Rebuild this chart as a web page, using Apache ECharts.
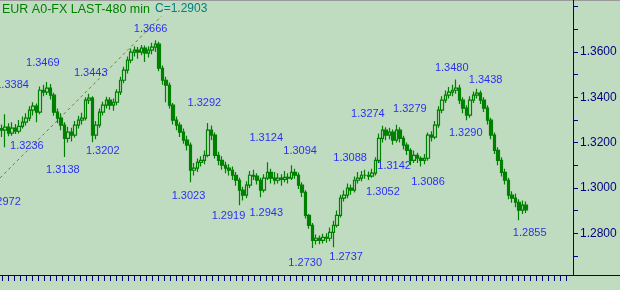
<!DOCTYPE html>
<html><head><meta charset="utf-8">
<script src="https://cdn.jsdelivr.net/npm/echarts@6/dist/echarts.min.js"></script>
<style>html,body{margin:0;padding:0;background:#c0dcc0;}#c{width:620px;height:290px;}</style>
</head><body><div id="c"></div>
<script>
var titleText = 'EUR A0-FX LAST-480 min';
var lastText = 'C=1.2903';
var slots = 164;
var opens = [1.3262,1.3255,1.3268,1.3242,1.3264,1.3250,1.3272,1.3290,1.3308,1.3343,
 1.3361,1.3334,1.3431,1.3423,1.3440,1.3409,1.3334,1.3308,1.3277,1.3219,
 1.3246,1.3233,1.3277,1.3299,1.3308,1.3387,1.3396,1.3233,1.3277,1.3334,
 1.3365,1.3387,1.3365,1.3378,1.3423,1.3475,1.3520,1.3564,1.3599,1.3608,
 1.3599,1.3617,1.3595,1.3608,1.3621,1.3634,1.3528,1.3475,1.3453,1.3365,
 1.3299,1.3277,1.3246,1.3211,1.3189,1.3078,1.3087,1.3113,1.3122,1.3144,
 1.3255,1.3233,1.3144,1.3122,1.3100,1.3087,1.3078,1.3056,1.3034,1.2990,
 1.2968,1.3012,1.3056,1.3052,1.3034,1.2990,1.3043,1.3069,1.3043,1.3034,
 1.3043,1.3038,1.3047,1.3043,1.3069,1.3056,1.3012,1.2981,1.2879,1.2835,
 1.2769,1.2778,1.2769,1.2782,1.2778,1.2804,1.2835,1.2879,1.2955,1.2968,
 1.2999,1.2990,1.3034,1.3043,1.3056,1.3056,1.3052,1.3065,1.3122,1.3219,
 1.3255,1.3233,1.3246,1.3211,1.3255,1.3219,1.3189,1.3166,1.3122,1.3144,
 1.3131,1.3122,1.3131,1.3233,1.3224,1.3277,1.3343,1.3387,1.3409,1.3423,
 1.3431,1.3440,1.3387,1.3352,1.3321,1.3387,1.3409,1.3418,1.3387,1.3352,
 1.3299,1.3233,1.3166,1.3122,1.3069,1.3034,1.2968,1.2955,1.2937,1.2902,
 1.2924];
var closes = [1.3255,1.3268,1.3242,1.3264,1.3250,1.3272,1.3290,1.3308,1.3343,1.3361,
 1.3334,1.3431,1.3423,1.3440,1.3409,1.3334,1.3308,1.3277,1.3219,1.3246,
 1.3233,1.3277,1.3299,1.3308,1.3387,1.3396,1.3233,1.3277,1.3334,1.3365,
 1.3387,1.3365,1.3378,1.3423,1.3475,1.3520,1.3564,1.3599,1.3608,1.3599,
 1.3617,1.3595,1.3608,1.3621,1.3634,1.3528,1.3475,1.3453,1.3365,1.3299,
 1.3277,1.3246,1.3211,1.3189,1.3078,1.3087,1.3113,1.3122,1.3144,1.3255,
 1.3233,1.3144,1.3122,1.3100,1.3087,1.3078,1.3056,1.3034,1.2990,1.2968,
 1.3012,1.3056,1.3052,1.3034,1.2990,1.3043,1.3069,1.3043,1.3034,1.3043,
 1.3038,1.3047,1.3043,1.3069,1.3056,1.3012,1.2981,1.2879,1.2835,1.2769,
 1.2778,1.2769,1.2782,1.2778,1.2804,1.2835,1.2879,1.2955,1.2968,1.2999,
 1.2990,1.3034,1.3043,1.3056,1.3056,1.3052,1.3065,1.3122,1.3219,1.3255,
 1.3233,1.3246,1.3211,1.3255,1.3219,1.3189,1.3166,1.3122,1.3144,1.3131,
 1.3122,1.3131,1.3233,1.3224,1.3277,1.3343,1.3387,1.3409,1.3423,1.3431,
 1.3440,1.3387,1.3352,1.3321,1.3387,1.3409,1.3418,1.3387,1.3352,1.3299,
 1.3233,1.3166,1.3122,1.3069,1.3034,1.2968,1.2955,1.2937,1.2902,1.2924,
 1.2903];
var highs = [1.3280,1.3325,1.3285,1.3290,1.3282,1.3300,1.3315,1.3330,1.3360,1.3378,
 1.3372,1.3448,1.3455,1.3467,1.3458,1.3420,1.3350,1.3330,1.3290,1.3270,
 1.3265,1.3295,1.3318,1.3332,1.3400,1.3415,1.3405,1.3295,1.3350,1.3380,
 1.3402,1.3400,1.3395,1.3435,1.3490,1.3535,1.3580,1.3615,1.3625,1.3622,
 1.3630,1.3628,1.3625,1.3640,1.3652,1.3645,1.3540,1.3490,1.3465,1.3375,
 1.3315,1.3290,1.3262,1.3230,1.3200,1.3110,1.3130,1.3140,1.3165,1.3286,
 1.3275,1.3245,1.3160,1.3140,1.3115,1.3105,1.3095,1.3070,1.3045,1.3005,
 1.3030,1.3075,1.3080,1.3065,1.3045,1.3060,1.3113,1.3085,1.3070,1.3065,
 1.3060,1.3075,1.3065,1.3100,1.3085,1.3068,1.3025,1.2990,1.2885,1.2845,
 1.2795,1.2790,1.2798,1.2800,1.2825,1.2855,1.2900,1.2970,1.2990,1.3020,
 1.3015,1.3050,1.3070,1.3075,1.3080,1.3072,1.3085,1.3135,1.3240,1.3274,
 1.3268,1.3265,1.3258,1.3279,1.3268,1.3230,1.3200,1.3175,1.3165,1.3155,
 1.3140,1.3150,1.3245,1.3250,1.3295,1.3360,1.3405,1.3430,1.3445,1.3455,
 1.3478,1.3455,1.3400,1.3365,1.3405,1.3425,1.3438,1.3430,1.3400,1.3365,
 1.3310,1.3245,1.3180,1.3135,1.3085,1.3045,1.2985,1.2975,1.2950,1.2945,
 1.2940];
var lows = [1.3225,1.3180,1.3228,1.3230,1.3238,1.3240,1.3262,1.3275,1.3295,1.3320,
 1.3290,1.3325,1.3405,1.3410,1.3390,1.3318,1.3285,1.3255,1.3136,1.3200,
 1.3205,1.3222,1.3262,1.3280,1.3298,1.3370,1.3202,1.3215,1.3265,1.3320,
 1.3350,1.3345,1.3340,1.3365,1.3410,1.3462,1.3505,1.3550,1.3580,1.3570,
 1.3585,1.3556,1.3575,1.3590,1.3600,1.3515,1.3455,1.3378,1.3350,1.3280,
 1.3255,1.3225,1.3195,1.3165,1.3025,1.3055,1.3070,1.3095,1.3105,1.3135,
 1.3210,1.3130,1.3100,1.3080,1.3065,1.3055,1.3035,1.3010,1.2924,1.2945,
 1.2955,1.3000,1.3035,1.3015,1.2959,1.2980,1.3035,1.3020,1.3015,1.3020,
 1.3010,1.3025,1.3020,1.3035,1.3040,1.2995,1.2960,1.2865,1.2820,1.2735,
 1.2750,1.2752,1.2755,1.2758,1.2765,1.2738,1.2825,1.2870,1.2940,1.2955,
 1.2970,1.2980,1.3020,1.3030,1.3040,1.3035,1.3045,1.3055,1.3110,1.3200,
 1.3210,1.3215,1.3190,1.3200,1.3200,1.3170,1.3145,1.3100,1.3110,1.3110,
 1.3095,1.3105,1.3120,1.3205,1.3215,1.3265,1.3330,1.3375,1.3395,1.3405,
 1.3415,1.3370,1.3330,1.3299,1.3310,1.3375,1.3395,1.3370,1.3335,1.3280,
 1.3215,1.3150,1.3100,1.3050,1.3015,1.2950,1.2935,1.2915,1.2857,1.2885,
 1.2890];
var labelText = ['1.3384','1.3469','1.3443','1.3666','1.3236','1.3138','1.3202','1.2972','1.3023','1.3292',
 '1.3124','1.3094','1.2919','1.2943','1.2730','1.2737','1.3088','1.3274','1.3052','1.3142',
 '1.3279','1.3086','1.3480','1.3438','1.3290','1.2855'];
var labelX = [2.95,11.78,25.48,42.6,7.2,17.5,28.9,0.64,53.45,58.0,
 75.7,85.4,64.9,75.7,86.85,98.56,99.7,104.8,109.1,112.3,
 116.8,122.0,128.8,138.5,132.8,151.1];
var labelY = [1.3453,1.3550,1.3506,1.3700,1.3184,1.3078,1.3162,1.2937,1.2963,1.3373,
 1.3219,1.3162,1.2875,1.2888,1.2668,1.2694,1.3131,1.3325,1.2981,1.3095,
 1.3347,1.3025,1.3528,1.3475,1.3241,1.2800];
var trendX = [-0.5, 45.75];
var trendY = [1.3044, 1.3758];
var yTickValues = [1.27,1.28,1.29,1.30,1.31,1.32,1.33,1.34,1.35,1.36,1.37,1.38];
var yLabelValues = [1.28,1.30,1.32,1.34,1.36];

var cats = [], candles = [], labels = [], trend = [], xTicks = [];
for (var i = 0; i < slots; i++) cats.push(String(i));
for (var i = 0; i < closes.length; i++) candles.push([opens[i], closes[i], lows[i], highs[i]]);
for (var i = 0; i < labelText.length; i++) labels.push({value: [labelX[i], labelY[i]], name: labelText[i]});
for (var i = 0; i < trendX.length; i++) trend.push([trendX[i], trendY[i]]);
for (var k = 0; k < 95; k++) xTicks.push(2.7 + 6 * k);

var FONT = '"Liberation Sans", Arial, sans-serif';
var NAVY = '#000080';
var chart = echarts.init(document.getElementById('c'), null, {renderer: 'canvas'});
chart.setOption({
  animation: false,
  backgroundColor: '#c0dcc0',
  textStyle: {fontFamily: FONT},
  grid: {left: 0, right: 47, top: 0, bottom: 15},
  xAxis: [
    {type: 'category', data: cats, boundaryGap: true, show: false},
    {type: 'value', min: 0, max: 573, position: 'bottom', gridIndex: 0,
     axisLine: {show: true, onZero: false, lineStyle: {color: NAVY, width: 1}},
     axisTick: {show: true, customValues: xTicks, length: 6, lineStyle: {color: NAVY}},
     axisLabel: {show: false}, splitLine: {show: false}},
    {type: 'value', min: -0.5, max: slots - 0.5, show: false, splitLine: {show: false}}
  ],
  yAxis: [{
    type: 'value', position: 'right', min: 1.2616, max: 1.3829, scale: true,
    axisLine: {show: true, onZero: false, lineStyle: {color: NAVY, width: 1}},
    axisTick: {show: true, inside: false, length: 5, customValues: yTickValues, lineStyle: {color: NAVY}},
    axisLabel: {show: true, customValues: yLabelValues, color: NAVY, fontSize: 12, fontFamily: FONT, margin: 7,
      formatter: function (v) { return v.toFixed(4); }},
    splitLine: {show: false}
  }],
  series: [
    {type: 'line', xAxisIndex: 2, data: trend, symbol: 'none', silent: true, z: 1,
     lineStyle: {color: '#8c7a00', width: 1, type: [3, 3]}},
    {type: 'candlestick', xAxisIndex: 0, data: candles, barWidth: 3, z: 2,
     itemStyle: {color: '#c0dcc0', color0: '#008000', borderColor: '#008000', borderColor0: '#008000', borderWidth: 1.2}},
    {type: 'scatter', xAxisIndex: 2, data: labels, symbolSize: 1, z: 3, silent: true,
     itemStyle: {color: 'rgba(0,0,0,0)'},
     label: {show: true, position: 'inside', formatter: function (p) { return p.name; },
       color: '#0000ff', fontSize: 11, fontFamily: FONT}}
  ],
  graphic: [
    {type: 'rect', left: 0, top: 0, shape: {width: 620, height: 1}, style: {fill: '#9a9a9a'}, silent: true},
    {type: 'line', silent: true, shape: {x1: 573, y1: 275.5, x2: 620, y2: 275.5}, style: {stroke: NAVY, lineWidth: 1}},
    {type: 'text', left: 2, top: 3, style: {text: titleText, fill: '#008000', font: '12.5px ' + FONT}},
    {type: 'text', left: 155, top: 3, style: {text: lastText, fill: '#008080', font: '12px ' + FONT}}
  ]
});
</script></body></html>
